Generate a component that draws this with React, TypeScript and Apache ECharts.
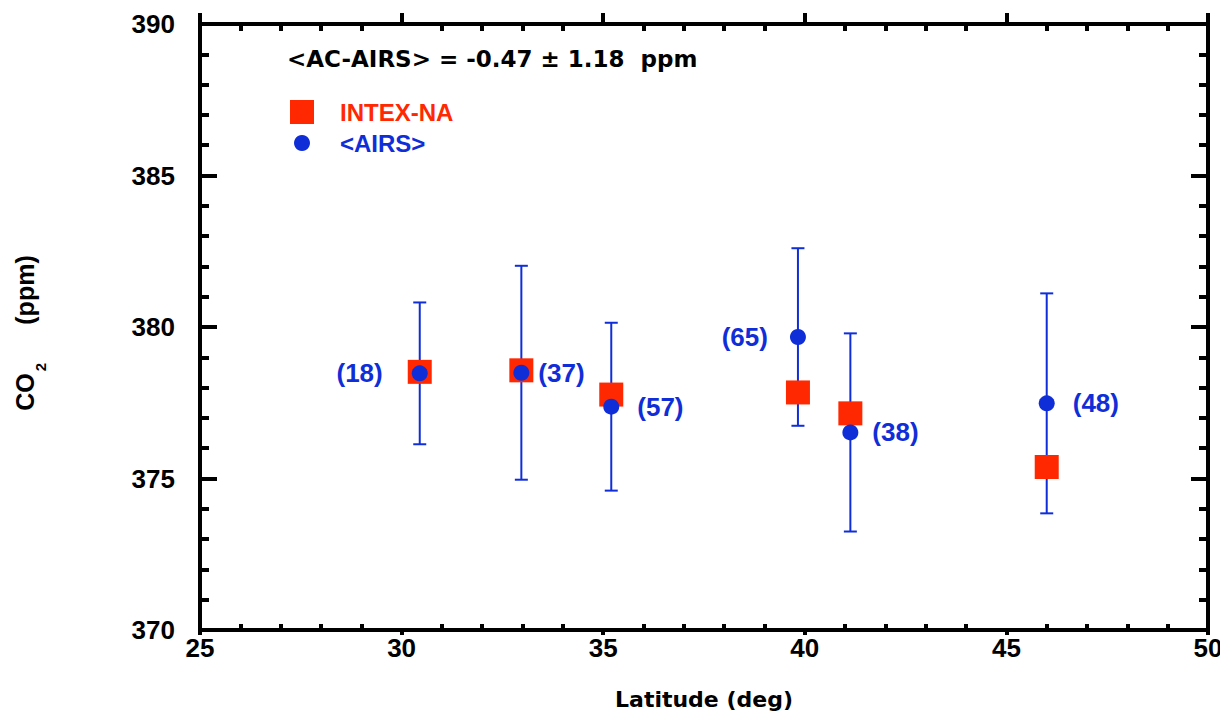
import React, { useEffect, useRef } from "react";
import * as echarts from "echarts";

// ---- data ----
const latitudes = [30.45, 32.97, 35.2, 39.83, 41.13, 46.0];
const intexCO2 = [378.52, 378.57, 377.77, 377.84, 377.15, 375.38];
const airsCO2 = [378.47, 378.49, 377.37, 379.67, 376.52, 377.48];
const airsErr = [2.34, 3.53, 2.77, 2.93, 3.27, 3.63];
const airsCounts = [18, 37, 57, 65, 38, 48];
const xTicks = { min: 25, max: 50, interval: 5 };
const yTicks = { min: 370, max: 390, interval: 5 };
const summaryText = "<AC-AIRS> = -0.47 ± 1.18  ppm";

// ---- styles ----
const RED = "#ff2800";
const BLUE = "#102ed8";
const ARIAL = "Liberation Sans, Arial, sans-serif";
const WIDE = "DejaVu Sans, sans-serif";
const labelSide = ["left", "right", "right", "left", "right", "right"];
const labelDist = [29, 9, 18, 22, 14, 18];

export default function App() {
  const ref = useRef<HTMLDivElement>(null);
  useEffect(() => {
    if (!ref.current) return;
    const chart = echarts.init(ref.current, null, { renderer: "svg" });

    const baseX = {
      type: "value",
      min: xTicks.min,
      max: xTicks.max,
      interval: xTicks.interval,
      splitLine: { show: false },
    };
    const baseY = {
      type: "value",
      min: yTicks.min,
      max: yTicks.max,
      interval: yTicks.interval,
      splitLine: { show: false },
    };
    const axisLine = { show: true, lineStyle: { color: "#000", width: 4 } };

    const option: any = {
      animation: false,
      grid: {
        left: 200,
        right: 12,
        top: 24,
        bottom: 89,
        containLabel: false,
        outerBoundsMode: "none",
      },
      xAxis: [
        {
          ...baseX,
          position: "bottom",
          axisLine,
          axisTick: { show: true, inside: false, length: 5, lineStyle: { color: "#000", width: 4 } },
          axisLabel: {
            show: true,
            margin: 5,
            color: "#000",
            fontSize: 26,
            fontWeight: "bold",
            fontFamily: ARIAL,
          },
          name: "Latitude (deg)",
          nameLocation: "middle",
          nameGap: 58,
          nameTextStyle: { color: "#000", fontSize: 22, fontWeight: "bold", fontFamily: WIDE },
        },
        {
          ...baseX,
          position: "bottom",
          axisLine: { show: false },
          axisTick: { show: false, inside: true },
          minorTick: { show: true, splitNumber: 5, length: 6, lineStyle: { color: "#000", width: 4 } },
          axisLabel: { show: false },
        },
        {
          ...baseX,
          position: "top",
          axisLine,
          axisTick: { show: true, inside: false, length: 11, lineStyle: { color: "#000", width: 4 } },
          axisLabel: { show: false },
        },
        {
          ...baseX,
          position: "top",
          axisLine: { show: false },
          axisTick: { show: false, inside: true },
          minorTick: { show: true, splitNumber: 5, length: 7, lineStyle: { color: "#000", width: 4 } },
          axisLabel: { show: false },
        },
      ],
      yAxis: [
        {
          ...baseY,
          position: "left",
          axisLine,
          axisTick: { show: true, inside: true, length: 17, lineStyle: { color: "#000", width: 4 } },
          minorTick: { show: true, splitNumber: 5, length: 9, lineStyle: { color: "#000", width: 4 } },
          axisLabel: {
            show: true,
            margin: 25,
            color: "#000",
            fontSize: 26,
            fontWeight: "bold",
            fontFamily: ARIAL,
            padding: [0, 0, 10, 0],
          },
        },
        {
          ...baseY,
          position: "right",
          axisLine,
          axisTick: { show: true, inside: true, length: 17, lineStyle: { color: "#000", width: 4 } },
          minorTick: { show: true, splitNumber: 5, length: 9, lineStyle: { color: "#000", width: 4 } },
          axisLabel: { show: false },
        },
      ],
      legend: [
        {
          data: ["INTEX-NA"],
          orient: "vertical",
          left: 285,
          top: 95,
          icon: "rect",
          itemWidth: 24,
          itemHeight: 24,
          selectedMode: false,
          textStyle: {
            color: RED,
            fontSize: 24,
            fontWeight: "bold",
            fontFamily: ARIAL,
            padding: [0, 0, 0, 21],
          },
        },
        {
          data: ["<AIRS>"],
          orient: "vertical",
          left: 289,
          top: 126,
          icon: "circle",
          itemWidth: 16,
          itemHeight: 16,
          selectedMode: false,
          textStyle: {
            color: BLUE,
            fontSize: 24,
            fontWeight: "bold",
            fontFamily: ARIAL,
            padding: [0, 0, 0, 25],
          },
        },
      ],
      graphic: [
        {
          type: "text",
          left: 287,
          top: 47,
          style: {
            text: summaryText,
            fill: "#000",
            font: `bold 23px ${WIDE}`,
          },
        },
        {
          type: "text",
          x: 25,
          y: 392,
          rotation: Math.PI / 2,
          style: {
            text: "CO",
            fill: "#000",
            font: `bold 25px ${ARIAL}`,
            align: "center",
            verticalAlign: "middle",
          },
        },
        {
          type: "text",
          x: 40,
          y: 367,
          rotation: Math.PI / 2,
          style: {
            text: "2",
            fill: "#000",
            font: `bold 15px ${ARIAL}`,
            align: "center",
            verticalAlign: "middle",
          },
        },
        {
          type: "text",
          x: 25,
          y: 290,
          rotation: Math.PI / 2,
          style: {
            text: "(ppm)",
            fill: "#000",
            font: `bold 25px ${ARIAL}`,
            align: "center",
            verticalAlign: "middle",
          },
        },
      ],
      series: [
        {
          type: "custom",
          name: "AIRS error",
          xAxisIndex: 0,
          yAxisIndex: 0,
          z: 1,
          data: latitudes.map((x, i) => [x, airsCO2[i] - airsErr[i], airsCO2[i] + airsErr[i]]),
          encode: { x: 0, y: [1, 2] },
          renderItem: (params: any, api: any) => {
            const x = api.value(0);
            const lo = api.coord([x, api.value(1)]);
            const hi = api.coord([x, api.value(2)]);
            const w = 6.5;
            const st = { stroke: BLUE, lineWidth: 2 };
            return {
              type: "group",
              children: [
                { type: "line", shape: { x1: hi[0], y1: hi[1], x2: lo[0], y2: lo[1] }, style: st },
                { type: "line", shape: { x1: hi[0] - w, y1: hi[1], x2: hi[0] + w, y2: hi[1] }, style: st },
                { type: "line", shape: { x1: lo[0] - w, y1: lo[1], x2: lo[0] + w, y2: lo[1] }, style: st },
              ],
            };
          },
        },
        {
          type: "scatter",
          name: "INTEX-NA",
          xAxisIndex: 0,
          yAxisIndex: 0,
          z: 2,
          symbol: "rect",
          symbolSize: 24,
          itemStyle: { color: RED, opacity: 1 },
          data: latitudes.map((x, i) => [x, intexCO2[i]]),
        },
        {
          type: "scatter",
          name: "<AIRS>",
          xAxisIndex: 0,
          yAxisIndex: 0,
          z: 3,
          symbol: "circle",
          symbolSize: 16,
          itemStyle: { color: BLUE, opacity: 1 },
          data: latitudes.map((x, i) => ({
            value: [x, airsCO2[i]],
            label: {
              show: true,
              position: labelSide[i],
              distance: labelDist[i],
              formatter: `(${airsCounts[i]})`,
              color: BLUE,
              fontSize: 26,
              fontWeight: "bold",
              fontFamily: ARIAL,
            },
          })),
        },
      ],
    };

    chart.setOption(option);
    return () => chart.dispose();
  }, []);

  return (
    <div
      ref={ref}
      style={{ position: "fixed", left: 0, top: 0, width: 1220, height: 719, background: "#fff" }}
    />
  );
}
